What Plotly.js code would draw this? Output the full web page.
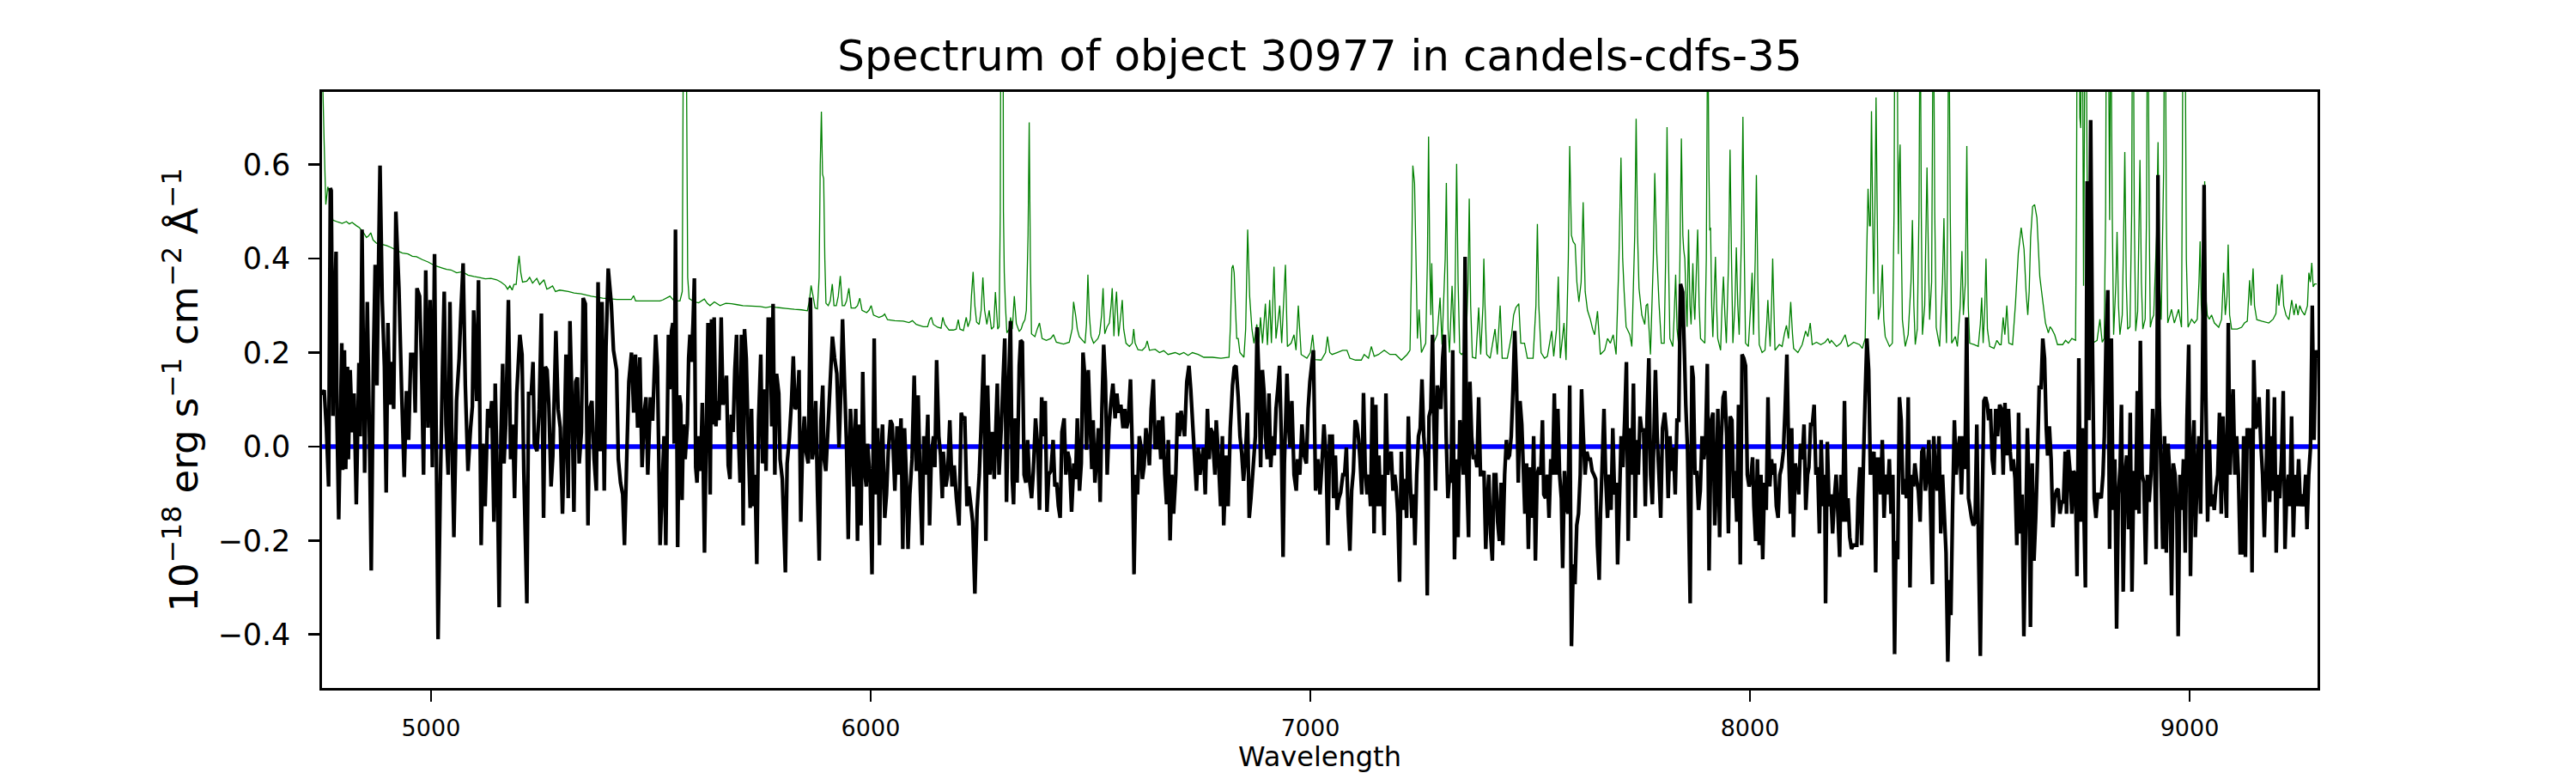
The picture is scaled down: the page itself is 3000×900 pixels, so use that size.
<!DOCTYPE html>
<html><head><meta charset="utf-8">
<script src="https://cdn.plot.ly/plotly-3.0.1.min.js"></script>
<style>html,body{margin:0;padding:0;background:#fff}#chart{width:3000px;height:900px}</style>
</head><body><div id="chart"></div>
<script>
const objWave = [
4752,4757,4762,4767,4771,4773,4777,4780,4784,4786,
4790,4797,4799,4803,4806,4810,4812,4816,4821,4825,
4830,4836,4839,4843,4849,4855,4860,4864,4869,4873,
4877,4881,4884,4889,4894,4898,4902,4906,4910,4915,
4920,4927,4933,4939,4944,4949,4954,4961,4964,4968,
4974,4978,4983,4988,4993,4998,5003,5008,5016,5021,
5026,5030,5034,5039,5043,5047,5052,5058,5064,5068,
5073,5078,5084,5090,5094,5097,5104,5108,5114,5118,
5123,5129,5133,5138,5143,5146,5151,5155,5159,5163,
5166,5170,5176,5181,5186,5190,5195,5202,5207,5211,
5218,5222,5228,5232,5235,5241,5246,5251,5256,5260,
5264,5268,5273,5277,5284,5289,5294,5299,5303,5307,
5312,5316,5321,5325,5329,5333,5337,5342,5346,5351,
5357,5361,5366,5371,5376,5380,5385,5389,5394,5398,
5403,5410,5415,5422,5426,5431,5436,5440,5446,5450,
5456,5461,5465,5470,5475,5480,5485,5489,5493,5499,
5504,5511,5515,5521,
5530,5534,5537,5540,5543,5547,5550,5553,5556,5561,
5565,5568,5571,5574,5578,5583,5586,5589,5592,5596,
5599,5602,5605,5609,5613,5617,5622,5626,5630,5635,
5638,5641,5644,5648,5651,5655,5660,5664,5668,5672,
5676,5680,5683,5687,5691,5695,5699,5703,5706,5710,
5713,5717,5721,5726,5729,5733,5737,5741,5745,5750,
5754,5758,5762,5767,5771,5775,5778,5782,5786,5791,
5794,5799,5806,5810,5815,5820,5824,5828,5833,5837,
5841,5845,5849,5853,5858,5863,5867,5871,5875,5879,
5883,5887,5891,5894,5898,5902,5908,5913,5918,5923,
5928,5932,5936,5941,5945,5949,5954,5958,5962,5966,
5970,5974,5978,5982,5986,5990,5993,5999,6003,6008,
6012,6016,6020,6023,6027,6032,6036,6040,6045,6049,
6055,6060,6064,6069,6073,6077,6081,6085,6089,6094,
6099,6104,6108,6113,6117,6121,6125,6130,6134,6138,
6143,6146,6150,6155,6159,6163,6165,6171,6175,6180,
6185,6190,6195,6201,6206,6210,6214,6219,6223,6227,
6232,6237,6242,6247,6251,6257,6262,6266,6271,6276,
6281,
6288,6292,6297,6301,6305,6309,6314,6318,6322,6325,
6329,6333,6338,6341,6345,6349,6353,6357,6361,6366,
6370,6375,6380,6384,6389,6393,6397,6401,6405,6410,
6415,6419,6423,6427,6431,6435,6440,6444,6448,6452,
6457,6462,6466,6470,6475,6479,6483,6488,6491,6495,
6499,6503,6506,6510,6514,6518,6522,6526,6530,6534,
6538,6542,6546,6551,6556,6560,6564,6569,6574,6578,
6582,6586,6591,6595,6599,6603,6607,6611,6615,6618,
6622,6626,6630,6634,6638,6643,6647,6651,6655,6660,
6664,6669,6673,6677,6681,6685,6689,6694,6698,6702,
6706,6710,6714,6719,6724,6728,6733,6737,6741,6745,
6749,6753,6757,6761,6766,6770,6773,6777,6783,6786,
6790,6796,6800,6803,6809,6813,6818,6823,6827,6831,
6836,6840,6844,6848,6852,6857,6861,6865,6870,6875,
6879,6883,6887,6891,6895,6898,6902,6906,6910,6914,
6918,6922,6926,6930,6934,6938,6941,6947,6951,6954,
6958,6963,6968,6971,6976,6981,6986,6991,6995,6999,
7003,7007,7012,7017,7022,7026,7031,7036,7040,7044,
7050,7053,7057,7061,7065,7069,7074,7078,7082,7086,
7090,7094,7098,7102,7106,7110,7113,7117,7121,7125,
7129,7133,7137,7141,7145,7149,7152,7156,7160,7164,
7168,7172,7176,7180,7184,7188,7192,7195,7199,7203,
7207,7211,7215,7219,7223,7227,7231,7235,7238,7242,
7246,7250,7254,7258,7262,7266,7270,7274,7278,7281,
7285,7289,7293,7297,7301,7305,7309,7313,7317,7320,
7324,7328,7332,7336,7340,7344,7348,7352,7356,7360,
7363,7367,7371,7375,7379,7383,7387,7391,7395,7399,
7403,7406,7410,7414,7418,7422,7426,7430,7434,7438,
7442,7446,7449,7453,7457,7461,7465,7469,7473,7477,
7481,7485,7488,7492,7496,7500,7504,7508,7512,7516,
7520,7524,7528,7531,7535,7539,7543,7547,7551,7555,
7559,7563,7567,7571,7574,7578,7582,7586,7590,7594,
7598,7602,7606,7610,7614,7617,7621,7625,7629,7633,
7637,7641,7645,7649,7653,7657,7660,7664,7668,7672,
7676,7680,7684,7688,7692,7696,7699,7703,7707,7711,
7715,7719,7723,7727,7731,7735,7739,7742,7746,7750,
7754,7758,7762,7766,7770,7774,7778,7782,7785,7789,
7793,7797,7801,7806,
7810,7814,7818,7822,7826,7830,7834,7838,7842,7847,
7851,7854,7858,7864,7868,7871,7875,7879,7883,7887,
7891,7895,7899,7903,7907,7912,7916,7920,7924,7927,
7931,7935,7939,7943,7947,7951,7955,7959,7963,7966,
7970,7974,7978,7982,7986,7990,7994,7998,8002,8006,
8009,8013,8017,8021,8025,8029,8033,8037,8041,8045,
8049,8052,8056,8060,8064,8068,8072,8076,8080,8084,
8088,8092,8095,8099,8103,8107,8111,8115,8119,8123,
8127,8131,8134,8138,8142,8146,8150,8154,8158,8162,
8166,8170,8172,8176,8180,8184,8188,8192,8196,8200,
8204,8207,8211,8215,8219,8223,8227,8231,8235,8239,
8243,8246,8250,8254,8258,8262,8266,8270,8274,8278,
8282,8286,8289,8293,8297,8301,8305,8309,8313,8317,
8321,8325,8329,8332,8336,8340,8344,8348,8352,8356,
8360,8364,8368,8372,8375,8379,8383,8387,8391,8395,
8399,8403,8407,8411,8415,8418,8422,8426,8430,8434,
8438,8442,8446,8450,8454,8457,8461,8465,8469,8473,
8477,8481,8485,8489,8493,8497,8500,8504,8508,8512,
8516,8520,8524,8528,8532,8536,8540,8543,8547,8551,
8555,8559,8563,8568,
8572,8576,8580,8584,8588,8592,8595,8599,8603,8607,
8611,8615,8619,8623,8627,8631,8635,8638,8642,8646,
8650,8654,8658,8662,8666,8670,8674,8677,8681,8685,
8689,8693,8697,8701,8705,8709,8713,8717,8720,8724,
8728,8732,8736,8740,8744,8748,8752,8756,8760,8763,
8767,8771,8775,8779,8783,8787,8791,8795,8799,8803,
8806,8810,8814,8818,8822,8826,8830,8834,8838,8842,
8845,8849,8853,8857,8861,8865,8869,8873,8877,8881,
8885,8888,8892,8896,8900,8904,8908,8912,8916,8920,
8924,8928,8931,8935,8939,8943,8947,8951,8955,8959,
8963,8967,8971,8974,8978,8982,8986,8990,8994,8998,
9002,9006,9010,9013,9017,9021,9025,9029,9033,9037,
9041,9045,9049,9053,9056,9060,9064,9068,9072,9076,
9080,9084,9088,9092,9096,9099,9103,9107,9111,9115,
9119,9123,9127,9131,9135,9139,9142,9146,9150,9154,
9158,9162,9166,9170,9174,9178,9182,9185,9189,9193,
9197,9201,9205,9209,9213,9217,9221,9225,9228,9232,
9236,9240,9244,9248,9252,9256,9260,9264,9267,9271,
9275,9279,9283,9287,9290
];
const objFlux = [
0.11,0.12,0.04,-0.085,0.55,0.545,0.065,0.27,0.415,0.065,
-0.155,0.22,-0.05,0.205,-0.048,0.17,-0.027,0.163,0.03,0.113,
-0.123,0.178,0.022,0.462,-0.056,0.308,0.02,-0.264,0.19,0.387,
0.13,0.41,0.598,0.312,0.17,-0.098,0.263,0.089,0.18,0.08,
0.5,0.337,0.122,-0.065,0.118,0.014,0.196,0.196,0.072,0.337,
0.32,0.19,-0.06,0.375,0.04,0.312,-0.044,0.41,-0.41,-0.09,
0.163,0.33,0.047,-0.06,0.308,0.04,-0.193,0.097,0.188,0.287,
0.39,0.13,-0.052,0.04,0.085,0.29,0.097,0.354,-0.21,0.006,
-0.127,0.08,0.04,0.097,-0.16,0.134,-0.077,-0.342,0.02,0.176,
-0.036,0.047,0.312,-0.027,0.047,-0.11,0.113,0.238,0.196,-0.052,
-0.334,0.113,0.113,0.18,0.006,-0.01,0.08,0.283,-0.152,0.17,
0.163,0.089,-0.085,-0.02,0.246,0.08,0.04,-0.143,0.006,0.196,
-0.11,0.267,0.08,-0.139,0.138,0.147,-0.036,0.03,0.316,0.304,
-0.168,0.08,0.097,-0.027,-0.094,0.35,-0.01,0.308,-0.094,0.213,
0.379,0.304,0.205,0.163,-0.027,-0.077,-0.102,-0.21,0.006,0.138,
0.2,0.072,0.196,0.04,0.19,-0.044,0.072,0.105,-0.06,0.105,
0.055,0.238,0.17,-0.21,
0.022,-0.21,0.022,0.238,0.122,0.246,0.263,0.006,0.462,-0.214,
0.109,0.089,-0.114,0.047,-0.027,0.047,0.188,0.238,0.18,0.263,
0.358,-0.044,-0.077,0.022,-0.052,0.093,-0.226,0.031,0.263,-0.102,
0.271,0.047,0.275,0.043,0.097,0.056,0.275,0.089,0.105,0.151,
-0.04,-0.069,0.068,0.031,0.163,0.238,0.031,-0.077,0.238,-0.168,
0.25,0.188,0.035,-0.131,0.08,-0.127,-0.06,-0.25,0.056,0.196,
-0.036,0.122,-0.052,0.271,0.271,0.043,0.304,-0.06,0.155,0.113,
-0.027,-0.069,-0.268,-0.036,0.018,0.097,0.192,0.08,0.085,0.163,
-0.16,-0.002,0.064,-0.011,-0.036,0.317,-0.027,-0.002,0.097,-0.094,
-0.243,0.056,0.13,-0.027,-0.052,0.022,0.138,0.234,0.188,0.155,
-0.002,0.113,0.271,0.122,0.006,-0.197,0.08,0.014,-0.085,0.08,
-0.201,0.047,-0.168,0.159,-0.052,-0.085,0.006,-0.077,-0.272,0.23,
-0.102,0.039,-0.21,-0.027,0.047,-0.152,-0.102,-0.011,0.056,0.047,
-0.094,0.043,-0.06,0.06,-0.218,0.039,-0.06,-0.218,-0.102,-0.027,
0.151,-0.052,0.109,-0.094,-0.21,0.022,-0.06,0.068,-0.168,-0.019,
0.022,-0.044,0.184,0.022,-0.019,-0.11,-0.011,-0.085,-0.06,0.056,
-0.085,-0.04,-0.11,-0.168,0.072,0.056,0.064,-0.127,-0.085,-0.118,
-0.16,-0.313,-0.135,-0.06,0.039,0.196,-0.201,0.13,-0.06,0.031,
-0.069,
0.134,-0.06,0.039,0.138,0.23,-0.118,0.138,0.267,-0.069,-0.123,
0.06,-0.077,0.172,0.226,0.222,-0.06,-0.077,0.014,-0.069,-0.11,
-0.052,0.06,-0.002,-0.135,0.105,0.022,0.097,-0.139,-0.06,-0.052,
0.014,-0.085,-0.077,-0.127,-0.152,0.031,0.06,-0.06,-0.011,-0.027,
-0.139,-0.036,-0.069,0.06,-0.094,-0.036,0.2,0.138,-0.007,0.163,
0.056,-0.048,0.056,-0.077,-0.027,0.039,-0.118,0.08,0.217,0.138,
-0.06,0.039,0.089,0.134,0.06,0.113,0.072,0.089,0.039,0.08,
0.039,0.056,0.143,-0.002,-0.272,-0.06,-0.102,0.022,-0.002,-0.069,
-0.04,0.039,0.006,-0.04,0.08,0.143,-0.002,-0.002,0.056,-0.027,
0.064,-0.06,-0.123,0.014,-0.2,-0.06,-0.143,-0.06,0.072,0.022,
0.076,0.047,0.022,0.138,0.172,0.122,0.039,-0.027,-0.094,-0.002,
-0.06,-0.027,-0.002,-0.102,0.08,-0.027,0.039,0.031,-0.06,0.056,
-0.007,-0.127,0.022,-0.168,-0.019,-0.127,0.039,0.13,0.168,0.172,
0.105,0.022,-0.015,-0.073,-0.027,0.072,-0.152,-0.11,-0.044,0.022,
0.254,0.147,-0.044,0.163,0.113,0.022,-0.027,0.113,-0.044,0.022,
-0.019,0.08,0.122,0.172,0.022,-0.235,-0.036,0.155,0.039,-0.002,
0.097,-0.06,-0.094,-0.027,-0.06,0.047,-0.019,-0.036,0.08,0.138,
0.172,0.205,-0.094,-0.027,-0.102,-0.044,0.047,-0.027,-0.21,0.022,
0.022,-0.11,-0.019,-0.135,-0.11,-0.098,-0.06,-0.06,-0.002,-0.143,
-0.222,-0.094,-0.052,0.056,0.047,0.014,-0.027,-0.102,0.114,-0.052,
-0.102,-0.06,-0.127,0.105,-0.185,0.089,-0.127,-0.019,-0.127,-0.06,
-0.189,0.113,-0.06,-0.027,-0.011,-0.094,-0.06,-0.085,-0.143,-0.288,
-0.011,-0.135,-0.069,-0.152,0.064,-0.069,-0.152,-0.102,-0.21,-0.06,
0.022,0.039,0.143,0.022,-0.027,-0.317,0.064,0.08,0.238,0.056,
-0.094,0.13,0.105,0.08,0.188,0.238,0.022,-0.11,-0.06,-0.077,
0.205,-0.24,-0.027,-0.193,0.056,0.014,-0.06,0.404,-0.06,-0.193,
0.138,0.022,-0.027,-0.019,-0.044,0.105,-0.06,-0.06,-0.052,-0.218,
-0.11,-0.06,-0.185,-0.243,-0.06,-0.06,-0.16,-0.201,-0.077,-0.21,
-0.06,0.014,-0.027,-0.019,0.022,0.122,0.246,0.138,-0.077,0.097,
0.047,-0.06,-0.143,-0.036,-0.218,-0.044,-0.152,0.022,-0.243,-0.06,
-0.044,-0.06,0.056,-0.102,-0.11,-0.06,-0.152,-0.027,-0.06,0.113,
-0.06,0.08,-0.06,-0.11,-0.259,-0.052,-0.127,-0.143,0.13,-0.425,
-0.251,-0.293,-0.168,-0.143,-0.06,0.122,0.022,-0.06,-0.011,-0.027,
-0.027,-0.052,-0.06,-0.069,-0.21,-0.284,-0.143,-0.036,0.08,-0.069,
-0.152,-0.06,-0.135,0.039,-0.102,-0.077,-0.251,-0.118,0.022,-0.044,
0.056,0.18,-0.201,0.039,-0.06,0.134,-0.152,0.014,-0.06,0.064,
0.031,0.039,-0.127,0.064,0.188,-0.06,-0.123,0.039,0.163,0.022,
-0.06,-0.152,0.039,0.072,
0.031,-0.11,0.022,-0.052,-0.002,-0.102,0.056,0.056,0.346,0.329,
0.196,0.089,-0.007,-0.334,0.172,0.147,-0.06,-0.052,-0.135,-0.094,
0.022,-0.027,0.006,0.176,-0.264,0.056,0.072,-0.168,-0.06,0.08,
-0.193,0.022,0.105,0.118,0.022,-0.185,0.064,0.056,-0.11,-0.052,
-0.16,0.089,-0.251,0.196,0.188,0.172,-0.06,-0.085,-0.069,-0.023,
-0.127,-0.201,-0.027,-0.21,-0.06,-0.24,-0.077,-0.135,0.105,-0.085,
-0.027,-0.06,-0.036,-0.127,-0.152,-0.06,-0.044,-0.011,0.08,0.196,
-0.011,-0.143,0.039,-0.193,-0.036,-0.06,-0.102,0.006,-0.027,0.047,
-0.135,-0.06,-0.044,0.047,0.047,0.089,-0.06,-0.044,-0.185,0.014,
-0.127,-0.06,-0.334,0.01,-0.127,-0.102,-0.185,-0.11,-0.06,-0.143,
-0.235,-0.06,-0.16,0.097,-0.16,-0.11,-0.193,-0.218,-0.21,-0.21,
-0.21,-0.11,-0.044,-0.21,-0.036,0.105,0.23,0.163,-0.06,-0.036,
-0.011,-0.268,-0.027,-0.027,-0.102,0.014,-0.152,-0.06,-0.102,-0.027,
-0.143,-0.06,-0.442,-0.201,-0.24,0.105,0.056,-0.102,-0.069,-0.11,
0.105,-0.3,-0.06,-0.085,-0.036,-0.069,-0.094,-0.16,-0.011,-0.002,
-0.094,-0.06,0.014,-0.143,-0.293,0.022,-0.06,-0.094,0.022,-0.185,
-0.06,-0.143,-0.226,-0.458,-0.284,-0.359,-0.127,0.056,-0.06,-0.011,
0.022,-0.102,0.022,-0.048,0.275,-0.11,-0.127,-0.152,-0.168,-0.16,
0.047,-0.226,-0.446,-0.143,0.097,0.105,0.089,0.056,0.08,-0.027,
-0.06,0.08,0.022,0.089,
0.08,-0.06,0.093,-0.019,0.08,-0.011,-0.052,-0.027,-0.069,-0.21,
0.072,-0.185,-0.102,-0.404,-0.185,0.039,-0.102,-0.384,-0.036,-0.243,
-0.152,-0.027,0.13,0.122,0.23,0.188,0.039,-0.019,0.043,-0.027,
-0.172,-0.11,-0.094,-0.09,-0.143,-0.118,-0.118,-0.011,-0.143,-0.007,
-0.052,-0.143,-0.052,-0.06,-0.276,0.188,-0.16,0.039,-0.16,-0.3,
0.565,0.056,0.695,0.221,-0.11,-0.152,-0.102,-0.102,-0.11,-0.06,
0.022,0.23,0.333,-0.218,0.23,-0.135,-0.027,-0.388,-0.102,-0.044,
0.089,-0.309,-0.06,-0.019,-0.176,0.072,-0.309,-0.052,-0.135,0.118,
-0.143,0.225,-0.06,-0.077,-0.251,-0.06,-0.118,-0.06,0.08,-0.011,
-0.218,0.578,0.105,-0.06,-0.218,0.022,-0.226,0.006,-0.06,-0.317,
-0.036,-0.06,-0.143,-0.404,-0.06,-0.135,-0.027,-0.226,0.056,0.217,
-0.276,-0.019,0.056,-0.193,-0.069,0.022,-0.143,0.122,0.557,0.105,
-0.16,0.014,-0.127,-0.102,-0.135,-0.085,-0.06,0.072,-0.143,0.064,
-0.06,-0.152,0.263,-0.06,0.064,0.122,-0.06,0.022,-0.06,-0.226,
-0.226,0.022,-0.235,0.039,-0.002,0.039,-0.268,0.184,0.039,0.047,
0.105,0.006,-0.06,-0.193,-0.06,0.122,-0.118,0.022,-0.094,0.105,
-0.226,-0.06,-0.11,-0.027,0.118,-0.218,-0.094,-0.06,-0.127,0.064,
-0.193,-0.06,-0.127,-0.027,-0.127,-0.102,-0.127,-0.06,-0.176,-0.06,
-0.002,0.3,0.014,0.205,0.188
];

// Second spectrum (green, with sky-line residual spikes)
const skyWave = [
4753.5,4756.8,4760.7,4765.2,4769.2,4773,4777,4788,4797.8,4807.6,
4814.1,4820.6,4830.4,4836.9,4846.7,4853.2,4857.7,4862.9,4868.1,4876,
4889,4898.7,4908.5,4921.5,4934.6,4947.6,4957.4,4967.1,4980.1,4993.2,
5003,5012.7,5025.7,5035.5,5045.3,5058.3,5071.3,5084.3,5097.4,5110.4,
5123.4,5136.4,5149.5,5159.2,5169,5174.2,5179.4,5184.6,5188.5,5193.7,
5197,5200.3,5204.2,5208.1,5217.8,5224.3,5230.9,5240.6,5247.1,5256.9,
5263.4,5268,5276.4,5283,5292.7,5312.3,5325.3,5341.6,5364.4,5390.4,
5422.8,5442.5,5455.5,5460.7,5465.3,5488,5520.6,
5527.1,5543.4,5553.2,5566.2,5571.4,5574,5577.3,5580.5,5583.8,5587.1,
5598.8,5608.5,5621.6,5628.1,5634.6,5644.4,5657.4,5670.4,5683.4,5696.5,
5709.5,5729,5748.6,5761.6,5774.6,5787.6,5807.2,5826.7,5843,5856,
5860.6,5864.5,5869,5873.6,5878.8,5882.7,5885.3,5887.9,5890.5,5893.1,
5895.7,5898.3,5903.5,5908.1,5912.7,5916.6,5921.8,5926.3,5930.9,5935.4,
5940.7,5945.2,5950.4,5955.6,5964.8,5970,5975.2,5980.4,5990.8,5996,
6001.2,6006.4,6018.8,6027.3,6031.8,6038.3,6054.6,6074.1,6087.2,6095,
6103.5,6119.7,6129.5,6134.1,6138,6142.5,6152.3,6160.1,6164,6168.6,
6178.3,6188.1,6194.6,6199.2,6203.1,6210.9,6217.4,6221.3,6226.6,6229.2,
6233,6237,6240.9,6246.7,6251.3,6255.2,6259.1,6264.3,6269.5,6274.7,
6279.9,
6283.7,6289,6292.2,6294.8,6297.4,6300,6302,6303.9,6306.5,6309.8,
6315,6318.3,6322.2,6326.7,6331.3,6337.8,6342.3,6346.3,6350.8,6354.1,
6358,6360.6,6363.2,6365.8,6373.6,6378.8,6384,6389.9,6399.6,6409.4,
6415.9,6422.4,6438.7,6451.7,6458.3,6461.5,6466.1,6470,6474.5,6487.6,
6490.8,6494.1,6497.3,6501.2,6507.1,6516.9,6520.8,6525.3,6528.6,6532.5,
6537.7,6542.9,6546.8,6549.4,6553.3,6556.6,6559.2,6563.8,6569,6572.2,
6575.5,6580.7,6588.5,6595,6598.3,6601.5,6608,6617.8,6625,6628.9,
6634.1,6647.1,6656.9,6666.6,6676.4,6692.7,6702.5,6712.2,6722,6731.8,
6744.8,6757.8,6777.3,6796.9,6815.1,6818.4,6821.6,6824.2,6826.8,6829.5,
6832.7,6836,6839.9,6849,6852.9,6857.5,6862,6867.2,6871.8,6878.3,
6882.8,6886.7,6891.3,6897.8,6902.4,6907.6,6911.5,6917.4,6921.9,6930.4,
6934.9,6943.4,6947.9,6956.4,6962.9,6967.5,6972.7,6979.2,6992.2,7000.1,
7005.3,7010.5,7024.8,7034.6,7039.1,7044.3,
7049.5,7060.6,7073.6,7083.4,7089.9,7103,7116,7122.5,7132.3,7138.8,
7145.3,7155.2,7168.1,7181.1,7194.1,7207.1,7220.2,7226.7,7230.6,7233.2,
7237.1,7240.4,7243.6,7247.5,7252.7,7262.5,7266.4,7269,7271.6,7274.2,
7276.2,7280.1,7288.5,7295.1,7299.6,7306.8,7309.4,7313.3,7316.5,7322.4,
7327.6,7330.2,7332.8,7336.1,7340,7343.9,7353.7,7358.9,7361.5,7364.7,
7368.6,7376.4,7383,7387.5,7392.7,7394.7,7397.3,7401.2,7409,7420.1,
7425.3,7431.8,7436.4,7448.1,7457.9,7462.4,7467.6,7474.2,7478.7,7487.1,
7493.7,7506.7,7513.2,7516.5,7519.7,7524.9,7532.7,7539.2,7549,7553.6,
7560.1,7564,7568.6,7577,7581.6,7586.8,7590,7593.9,7597.9,7602.4,
7606.3,7610.9,7616,7620.6,7625.2,7630.4,7636.9,7642.1,7646.7,7653.2,
7659.7,7669.5,7676,7682.5,7689,7695.5,7702,7706.6,7710.5,7713.8,
7718.3,7726.8,7731.3,7737.9,7741.1,7744.4,7747.6,7754.1,7760.7,7763.9,
7767.2,7773.7,7780.2,7783.5,7788,7793.2,7798.4,7803,
7804.9,7808.2,7811.4,7814.7,7817.9,7824.5,7827.7,7831,7834.2,7837.5,
7840.7,7844,7847.3,7849.2,7851.8,7855.1,7857,7860.3,7863.5,7866.1,
7870.1,7872.7,7874.6,7881.1,7884.4,7887.6,7897.4,7900.7,7903.9,7906.5,
7908.5,7910.4,7913,7915.6,7918.9,7921.5,7924.1,7926.7,7933.2,7936.5,
7939.7,7943,7946.3,7951.5,7954.7,7958,7961.2,7965.8,7969,7972.3,
7975.5,7980.8,7984,7987.3,7989.9,7996.4,8001.6,8004.9,8008.1,8012,
8014.6,8017.9,8021.1,8027.6,8034.2,8038.1,8040.7,8043.3,8045.9,8049.1,
8051.7,8054.3,8056.9,8066.7,8073.2,8078.4,8083,8087.6,8092.7,8096.7,
8099.3,8109,8118.8,8126.6,8131.8,8137.1,8141.6,8151.4,8161.1,8170.9,
8177.4,8181.3,8185.2,8197,8206.7,8216.5,8223,8236,8249.1,8255.6,
8262.1,8265.3,8268.6,8271.9,8273.8,8276.4,8279,8281.6,8284.2,8286.8,
8289.4,8292,8296.6,8301.2,8304.4,8307.7,8317.4,8323.9,8327.8,8330.4,
8333.7,8336.3,8337.6,8339.6,8341.5,8344.1,8346.7,8353.2,8359.8,8366.3,
8369.5,8372.8,8376,8380.6,8384.5,8387.1,8389.7,8392.3,8397.5,8402.7,
8406,8408.6,8413.2,8417.1,8420.3,8423.6,8431.4,8437.9,8441.2,8444.4,
8447,8449.6,8452.2,8455.5,8458.8,8467.2,8471.8,8478.3,8482.2,8485.4,
8490,8493.3,8496.5,8499.8,8509.5,8519.3,8523.9,8527.1,8530.4,8534.3,
8536.9,8540.1,8545.3,8555.1,8561.6,8568.1,
8571.3,8575.9,8579.8,8584.3,8588.9,8597.3,8603.9,8610.4,8616.9,8623.4,
8628,8631.9,8635.1,8638.4,8642.9,8647.5,8652.7,8659.2,8665.7,8672.2,
8678.7,8682.6,8686.6,8693.1,8699.6,8711.3,8717.8,8724.3,8732.1,8740.6,
8742.6,8745.2,8747.8,8750.4,8752.3,8754.9,8756.9,8758.8,8761.4,8764,
8766.7,8769.9,8782.9,8789.5,8796,8801.2,8805.7,8809,8811.6,8814.8,
8818.1,8820.7,8824,8827.2,8832.4,8835,8838.3,8841.5,8846.8,8850,
8852.6,8855.9,8859.1,8864.3,8868.3,8870.9,8874.1,8877.4,8881.9,8884.5,
8887.1,8890.4,8893.6,8898.9,8902.1,8904.7,8908,8910.6,8914.5,8918.4,
8924.9,8928.2,8931.4,8935.3,8941.2,8943.8,8947,8950.3,8955.5,8958.8,
8965.3,8975,8981.6,8983.5,8986.1,8989.4,8992.6,8996.5,9004.4,9010.9,
9017.4,9021.3,9023.9,9026.5,9029.1,9031.7,9034.3,9036.9,9040.2,9044.7,
9049.9,9056.4,9066.2,9072.7,9077.3,9081.2,9085.1,9087.7,9091,9095.5,
9108.5,9118.3,9124.8,9131.3,9136.5,9139.8,9144.4,9147.6,9152.8,9163.9,
9180.2,9189.9,9196.4,9199.7,9203,9206.2,9210.1,9214,9219.2,9225.8,
9232.3,9237.5,9242,9246.6,9250.5,9255.7,9261.6,9268.1,9271.3,9274.6,
9277.9,9281.1,9284.4,9289
];
const skyFlux = [
0.78,0.65,0.515,0.553,0.54,0.5,0.482,0.478,0.475,0.479,
0.474,0.477,0.47,0.466,0.455,0.445,0.448,0.455,0.44,0.433,
0.43,0.428,0.424,0.418,0.412,0.41,0.405,0.404,0.398,0.393,
0.388,0.384,0.38,0.377,0.376,0.37,0.372,0.365,0.362,0.36,
0.357,0.358,0.355,0.35,0.343,0.335,0.342,0.333,0.345,0.345,
0.38,0.406,0.37,0.35,0.352,0.36,0.348,0.358,0.345,0.355,
0.335,0.337,0.342,0.33,0.333,0.33,0.327,0.325,0.32,0.316,
0.313,0.313,0.313,0.321,0.31,0.31,0.31,
0.312,0.32,0.31,0.31,0.33,0.9,1.6,0.9,0.36,0.315,
0.308,0.306,0.314,0.305,0.3,0.308,0.3,0.305,0.304,0.302,
0.3,0.299,0.298,0.296,0.298,0.296,0.294,0.292,0.291,0.289,
0.31,0.343,0.32,0.295,0.293,0.36,0.6,0.713,0.58,0.57,
0.4,0.305,0.3,0.31,0.346,0.3,0.3,0.32,0.363,0.3,
0.3,0.31,0.337,0.295,0.295,0.3,0.316,0.29,0.285,0.29,
0.3,0.28,0.275,0.278,0.282,0.27,0.268,0.267,0.264,0.268,
0.26,0.255,0.255,0.27,0.275,0.26,0.254,0.252,0.275,0.26,
0.248,0.248,0.25,0.27,0.25,0.247,0.275,0.255,0.27,0.32,
0.372,0.3,0.265,0.26,0.29,0.36,0.29,0.26,0.29,0.25,
0.255,
0.329,0.25,0.255,0.5,1.4,1.5,0.5,0.37,0.3,0.242,
0.25,0.275,0.25,0.32,0.262,0.245,0.25,0.262,0.27,0.29,
0.45,0.69,0.4,0.24,0.234,0.25,0.263,0.23,0.226,0.23,
0.238,0.222,0.218,0.222,0.25,0.308,0.28,0.25,0.234,0.22,
0.26,0.366,0.28,0.235,0.22,0.23,0.24,0.28,0.337,0.24,
0.255,0.263,0.3,0.337,0.235,0.3,0.33,0.235,0.28,0.312,
0.25,0.22,0.213,0.22,0.25,0.22,0.206,0.205,0.212,0.225,
0.205,0.207,0.2,0.204,0.196,0.2,0.196,0.2,0.194,0.2,
0.196,0.19,0.19,0.188,0.19,0.26,0.38,0.386,0.37,0.3,
0.23,0.23,0.2,0.19,0.25,0.462,0.32,0.25,0.22,0.26,
0.22,0.275,0.22,0.304,0.216,0.312,0.22,0.383,0.23,0.3,
0.22,0.387,0.213,0.22,0.238,0.205,0.3,0.196,0.188,0.2,
0.238,0.185,0.184,0.2,0.234,0.2,
0.196,0.2,0.205,0.205,0.188,0.184,0.184,0.196,0.188,0.213,
0.192,0.196,0.205,0.196,0.196,0.184,0.196,0.205,0.4,0.598,
0.56,0.4,0.23,0.292,0.2,0.22,0.4,0.66,0.4,0.28,
0.39,0.22,0.238,0.317,0.217,0.4,0.561,0.25,0.2,0.342,
0.22,0.4,0.602,0.35,0.2,0.196,0.205,0.35,0.528,0.3,
0.19,0.188,0.296,0.196,0.3,0.4,0.3,0.196,0.188,0.25,
0.196,0.3,0.188,0.188,0.238,0.28,0.296,0.304,0.22,0.22,
0.188,0.188,0.3,0.474,0.3,0.2,0.188,0.192,0.246,0.192,
0.25,0.362,0.188,0.263,0.184,0.4,0.64,0.45,0.436,0.43,
0.35,0.308,0.35,0.52,0.33,0.29,0.271,0.25,0.238,0.288,
0.196,0.205,0.23,0.22,0.238,0.196,0.4,0.615,0.4,0.33,
0.255,0.238,0.213,0.45,0.698,0.45,0.337,0.28,0.26,0.3,
0.304,0.196,0.4,0.582,0.412,0.304,0.22,0.22,
0.22,0.4,0.68,0.4,0.23,0.213,0.28,0.366,0.25,0.22,
0.4,0.656,0.45,0.42,0.4,0.3,0.255,0.462,0.3,0.26,
0.39,0.3,0.27,0.462,0.3,0.23,0.22,0.4,0.95,0.6,
0.46,0.466,0.3,0.233,0.33,0.404,0.3,0.23,0.205,0.3,
0.362,0.28,0.22,0.4,0.632,0.4,0.22,0.3,0.424,0.3,
0.238,0.45,0.702,0.4,0.22,0.213,0.3,0.37,0.238,0.4,
0.578,0.35,0.217,0.2,0.205,0.26,0.312,0.26,0.213,0.3,
0.4,0.3,0.205,0.217,0.213,0.24,0.258,0.23,0.308,0.24,
0.209,0.2,0.217,0.246,0.234,0.263,0.217,0.222,0.217,0.222,
0.23,0.22,0.226,0.213,0.22,0.238,0.213,0.222,0.217,0.209,
0.23,0.4,0.549,0.47,0.47,0.714,0.5,0.325,0.5,0.743,
0.5,0.27,0.3,0.387,0.27,0.234,0.213,0.22,0.5,1.2,
1.2,0.6,0.41,0.6,0.643,0.45,0.27,0.213,0.238,0.35,
0.482,0.3,0.217,0.25,0.5,1.0,0.5,0.238,0.3,0.594,
0.4,0.27,0.35,1.0,0.5,0.254,0.213,0.35,0.486,0.3,
0.22,0.5,1.0,0.5,0.22,0.234,0.213,0.3,0.416,0.28,
0.35,0.64,0.3,0.22,0.217,0.213,0.26,0.317,0.22,0.3,
0.4,0.25,0.213,0.209,0.226,0.217,
0.217,0.275,0.238,0.3,0.22,0.217,0.304,0.412,0.466,0.42,
0.33,0.28,0.33,0.445,0.511,0.515,0.487,0.362,0.312,0.263,
0.242,0.255,0.25,0.238,0.217,0.217,0.226,0.22,0.23,0.226,
0.5,1.2,1.0,0.7,0.678,1.0,0.8,0.342,0.8,1.1,
0.6,0.238,0.222,0.226,0.271,0.222,0.23,0.5,1.2,1.0,
0.482,1.0,0.5,0.238,0.35,0.457,0.3,0.238,0.28,0.45,
0.627,0.35,0.25,0.255,0.5,1.2,0.5,0.246,0.288,0.45,
0.61,0.35,0.25,0.271,0.5,1.1,0.5,0.254,0.271,0.28,
0.45,0.648,0.35,0.27,0.6,1.2,0.5,0.263,0.28,0.292,
0.263,0.292,0.254,0.6,1.2,1.0,0.4,0.254,0.271,0.263,
0.271,0.35,0.437,0.3,0.271,0.4,0.565,0.32,0.28,0.271,
0.28,0.263,0.254,0.271,0.37,0.28,0.32,0.43,0.28,0.25,
0.25,0.254,0.263,0.267,0.354,0.3,0.379,0.3,0.27,0.267,
0.263,0.271,0.283,0.346,0.3,0.33,0.366,0.3,0.28,0.27,
0.312,0.28,0.304,0.28,0.3,0.288,0.28,0.3,0.37,0.35,
0.391,0.34,0.346,0.346
];

// Zero reference level (blue)
const zeroWave = [4752, 9291];
const zeroFlux = [0, 0];

// Axis settings
const xRange = [4752, 9291];
const yRange = [-0.514, 0.755];
const xTickVals = [5000, 6000, 7000, 8000, 9000];
const xTickText = ['5000', '6000', '7000', '8000', '9000'];
const yTickVals = [-0.4, -0.2, 0.0, 0.2, 0.4, 0.6];
const yTickText = ['\u22120.4', '\u22120.2', '0.0', '0.2', '0.4', '0.6'];

const nObj = Math.min(objWave.length, objFlux.length);
const nSky = Math.min(skyWave.length, skyFlux.length);

const traces = [
  {x: skyWave.slice(0, nSky), y: skyFlux.slice(0, nSky), type: 'scatter', mode: 'lines',
   line: {color: '#008000', width: 1.3, simplify: false}, hoverinfo: 'skip'},
  {x: zeroWave, y: zeroFlux, type: 'scatter', mode: 'lines',
   line: {color: '#0000ff', width: 5.5}, hoverinfo: 'skip'},
  {x: objWave.slice(0, nObj), y: objFlux.slice(0, nObj), type: 'scatter', mode: 'lines',
   line: {color: '#000000', width: 4.3, simplify: false}, hoverinfo: 'skip'}
];

const axisCommon = {
  showgrid: false, zeroline: false, showline: true, mirror: true,
  linecolor: '#000', linewidth: 2.6, ticks: 'outside', ticklen: 13,
  tickwidth: 2.6, tickcolor: '#000'
};

const layout = {
  width: 3000, height: 900,
  margin: {l: 375, r: 301, t: 107, b: 99, pad: 0},
  paper_bgcolor: '#fff', plot_bgcolor: '#fff',
  showlegend: false,
  font: {family: 'DejaVu Sans, sans-serif', color: '#000'},
  title: {text: 'Spectrum of object 30977 in candels-cdfs-35',
          font: {size: 50, family: 'DejaVu Sans, sans-serif', color: '#000'},
          xref: 'paper', x: 0.5, xanchor: 'center',
          yref: 'container', y: 1 - 64/900, yanchor: 'middle'},
  xaxis: Object.assign({}, axisCommon, {
    range: xRange, tickmode: 'array', tickvals: xTickVals, ticktext: xTickText,
    tickfont: {size: 27}, ticklabelstandoff: 8,
    title: {text: 'Wavelength', font: {size: 32}, standoff: 2}
  }),
  yaxis: Object.assign({}, axisCommon, {
    range: yRange, tickmode: 'array', tickvals: yTickVals, ticktext: yTickText,
    tickfont: {size: 35}, ticklabelstandoff: 14,
    title: {text: '10<sup>\u221218</sup> erg s<sup>\u22121</sup> cm<sup>\u22122</sup> \u00c5<sup>\u22121</sup>',
            font: {size: 45}, standoff: 9}
  })
};

Plotly.newPlot('chart', traces, layout, {staticPlot: true, displayModeBar: false});
</script>
</body></html>
